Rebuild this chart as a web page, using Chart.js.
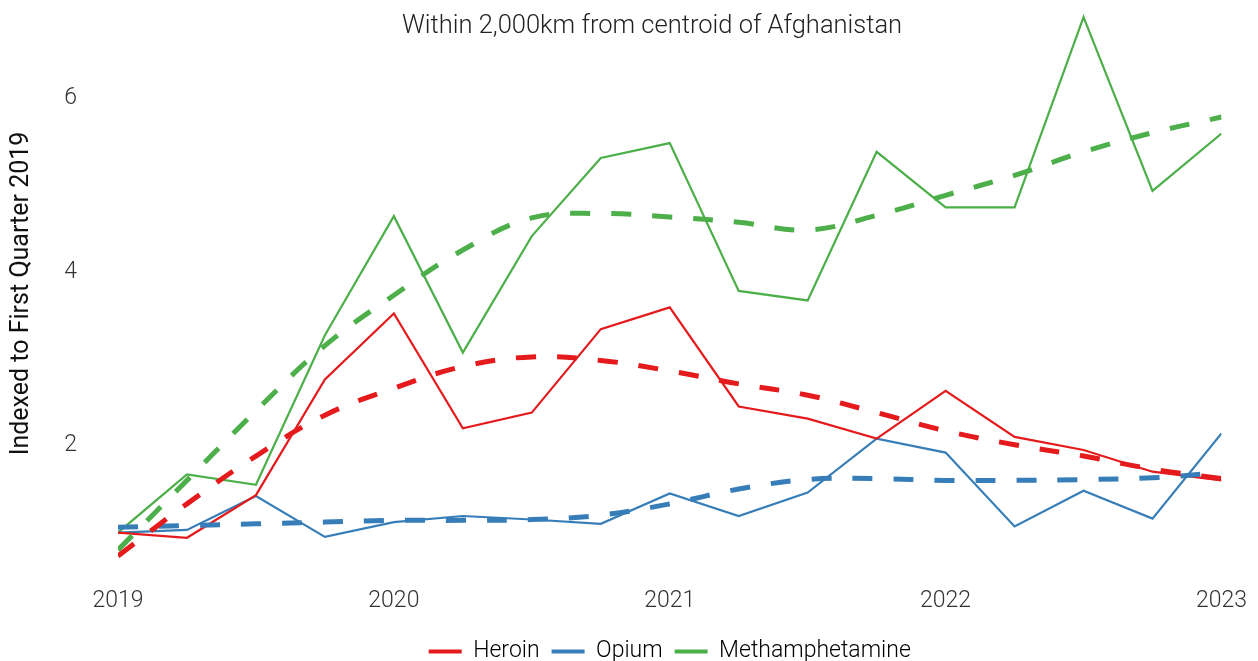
<!DOCTYPE html>
<html lang="en">

<head>
    <meta charset="UTF-8">
    <title>Within 2,000km from centroid of Afghanistan</title>
    <style>
        html, body { margin: 0; padding: 0; background: #fff; }
        #wrap { width: 1258px; height: 661px; }
    </style>
</head>

<body>
    <div id="wrap">
        <canvas id="myChart" width="1258" height="661"></canvas>
    </div>

    <script src="https://cdnjs.cloudflare.com/ajax/libs/Chart.js/4.4.1/chart.umd.js"></script>

    <script>
        // quarters, 2019 Q1 .. 2023 Q1
        var quarters = [2019, 2019.25, 2019.5, 2019.75, 2020, 2020.25, 2020.5, 2020.75,
            2021, 2021.25, 2021.5, 2021.75, 2022, 2022.25, 2022.5, 2022.75, 2023];

        var heroin = [1.0, 0.94, 1.43, 2.76, 3.52, 2.20, 2.38, 3.34, 3.59, 2.45, 2.31, 2.08, 2.63, 2.10, 1.95, 1.70, 1.60];
        var opium = [1.0, 1.03, 1.42, 0.95, 1.12, 1.19, 1.15, 1.10, 1.45, 1.19, 1.46, 2.08, 1.92, 1.07, 1.48, 1.16, 2.14];
        var meth = [1.0, 1.67, 1.55, 3.27, 4.64, 3.07, 4.41, 5.31, 5.48, 3.78, 3.67, 5.38, 4.74, 4.74, 6.93, 4.93, 5.59];

        // smoothed trends
        var heroinTrend = [0.73, 1.33, 1.88, 2.35, 2.66, 2.91, 3.02, 2.98, 2.86, 2.71, 2.58, 2.38, 2.17, 2.01, 1.88, 1.73, 1.62];
        var opiumTrend = [1.06, 1.08, 1.10, 1.12, 1.14, 1.14, 1.15, 1.20, 1.33, 1.50, 1.61, 1.62, 1.60, 1.60, 1.61, 1.63, 1.69];
        var methTrend = [0.80, 1.60, 2.40, 3.15, 3.73, 4.25, 4.62, 4.67, 4.63, 4.57, 4.48, 4.65, 4.88, 5.11, 5.38, 5.60, 5.78];

        var seriesNames = ['Heroin', 'Opium', 'Methamphetamine'];
        var seriesColors = ['#E41A1C', '#377EB8', '#4DAF4A'];
        var xTicks = [2019, 2020, 2021, 2022, 2023];
        var yTicks = [2, 4, 6];

        var chartTitle = 'Within 2,000km from centroid of Afghanistan';
        var yTitle = 'Indexed to First Quarter 2019';

        function points(values) {
            return values.map(function (v, i) { return { x: quarters[i], y: v }; });
        }

        document.addEventListener("DOMContentLoaded", function () {

            var solid = [heroin, opium, meth];
            var trend = [heroinTrend, opiumTrend, methTrend];
            var datasets = [];

            // dashed trends first so they sit on top
            for (var i = 0; i < 3; i++) {
                datasets.push({
                    label: seriesNames[i] + ' trend',
                    data: points(trend[i]),
                    borderColor: seriesColors[i],
                    borderWidth: 5,
                    borderDash: [20, 21],
                    borderCapStyle: 'butt',
                    tension: 0.4,
                    pointRadius: 0,
                    fill: false
                });
            }
            for (var j = 0; j < 3; j++) {
                datasets.push({
                    label: seriesNames[j],
                    data: points(solid[j]),
                    borderColor: seriesColors[j],
                    borderWidth: 2.2,
                    tension: 0,
                    pointRadius: 0,
                    fill: false
                });
            }

            // title sits inside the plot area, like the original
            var titlePlugin = {
                id: 'topTitle',
                afterDraw: function (chart) {
                    var ctx = chart.ctx;
                    ctx.save();
                    ctx.font = '300 25.5px Roboto';
                    ctx.fillStyle = '#222';
                    ctx.textAlign = 'center';
                    ctx.textBaseline = 'middle';
                    ctx.fillText(chartTitle, 652, 27);
                    ctx.restore();
                }
            };

            Chart.defaults.font.family = 'Roboto';
            Chart.defaults.font.weight = '300';
            Chart.defaults.color = '#333';

            var ctx = document.getElementById('myChart').getContext('2d');
            var myChart = new Chart(ctx, {
                type: 'line',
                data: { datasets: datasets },
                plugins: [titlePlugin],
                options: {
                    responsive: false,
                    animation: false,
                    layout: { padding: { top: 11, left: 0, right: 4, bottom: -12 } },
                    plugins: {
                        tooltip: { enabled: false },
                        legend: {
                            position: 'bottom',
                            fullSize: false,
                            labels: {
                                usePointStyle: true,
                                pointStyleWidth: 33,
                                boxHeight: 20,
                                padding: 12,
                                font: { size: 23, weight: '300' },
                                color: '#222',
                                generateLabels: function () {
                                    return seriesNames.map(function (name, k) {
                                        return {
                                            text: name,
                                            strokeStyle: seriesColors[k],
                                            fillStyle: seriesColors[k],
                                            lineWidth: 4,
                                            pointStyle: 'line',
                                            datasetIndex: k + 3
                                        };
                                    });
                                }
                            }
                        }
                    },
                    scales: {
                        x: {
                            type: 'linear',
                            min: 2019,
                            max: 2023,
                            grid: { display: false, drawTicks: false },
                            border: { display: false },
                            afterBuildTicks: function (scale) {
                                scale.ticks = xTicks.map(function (v) { return { value: v }; });
                            },
                            afterFit: function (scale) { scale.height = 52; },
                            ticks: {
                                padding: 11,
                                font: { size: 23 },
                                color: '#333',
                                callback: function (v) { return String(v); }
                            }
                        },
                        y: {
                            min: 0.5,
                            max: 7.0,
                            grid: { display: false, drawTicks: false },
                            border: { display: false },
                            afterBuildTicks: function (scale) {
                                scale.ticks = yTicks.map(function (v) { return { value: v }; });
                            },
                            afterFit: function (scale) {
                                scale.width = 118;
                                scale.paddingTop = 0;
                                scale.paddingBottom = 0;
                            },
                            ticks: {
                                padding: 41,
                                font: { size: 23 },
                                color: '#333'
                            },
                            title: {
                                display: true,
                                text: yTitle,
                                font: { size: 25, weight: '400' },
                                color: '#111',
                                padding: { top: 7, bottom: 0 }
                            }
                        }
                    }
                }
            });
        });
    </script>

</body>

</html>
